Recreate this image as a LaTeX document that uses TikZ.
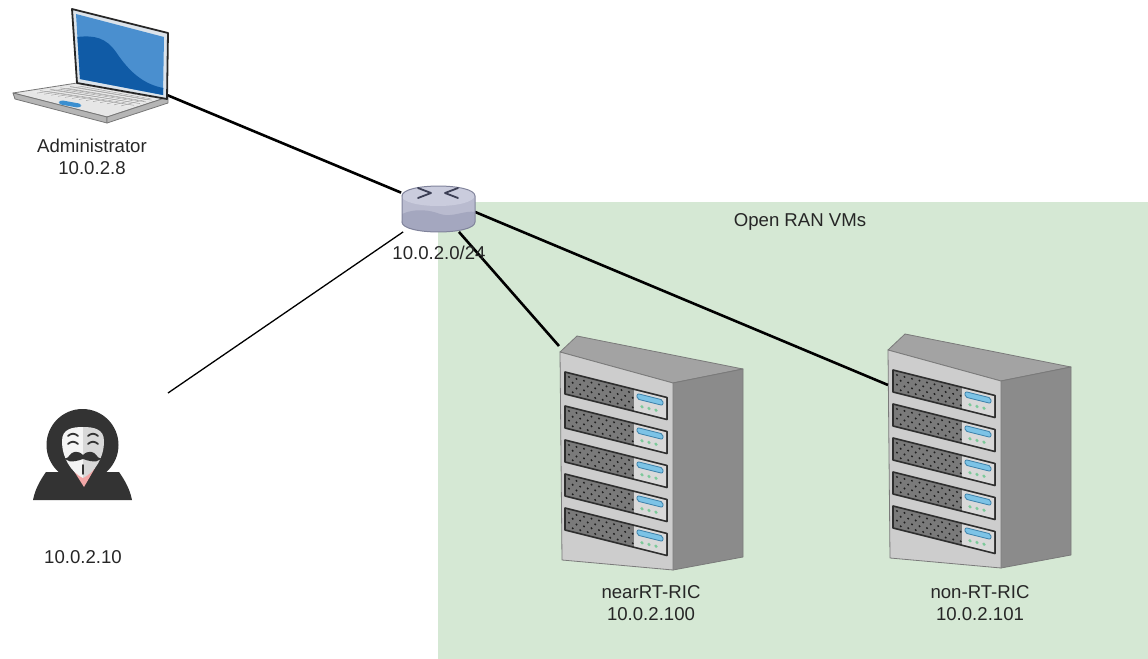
\documentclass[tikz,border=0pt]{standalone}
\usepackage{fontspec}
\setmainfont{Liberation Sans}
\usetikzlibrary{calc}

\definecolor{vmgreen}{HTML}{D5E8D4}
\definecolor{hood}{HTML}{333333}
\definecolor{maskwhite}{HTML}{F4F4F4}
\definecolor{maskshade}{HTML}{D8D8D8}
\definecolor{blush}{HTML}{F2A7A7}
\definecolor{rtop}{HTML}{CACCDD}
\definecolor{rbody}{HTML}{B9BBCF}
\definecolor{rbottom}{HTML}{A4A7BF}
\definecolor{rline}{HTML}{80839B}
\definecolor{rmark}{HTML}{3C3F55}
\definecolor{lapbase}{HTML}{E6E6E6}
\definecolor{lapedge}{HTML}{B5B5B5}
\definecolor{lapline}{HTML}{777777}
\definecolor{keygrid}{HTML}{A9A9A9}
\definecolor{bezel}{HTML}{DCE3EA}
\definecolor{scrlight}{HTML}{4A8FCF}
\definecolor{scrdark}{HTML}{105BA6}
\definecolor{touchpad}{HTML}{3B8FD0}
\definecolor{racktop}{HTML}{A3A3A3}
\definecolor{rackside}{HTML}{8B8B8B}
\definecolor{rackfront}{HTML}{CDCDCD}
\definecolor{rackline}{HTML}{7A7A7A}
\definecolor{meshgrey}{HTML}{7A7A7A}
\definecolor{meshdot}{HTML}{1E1E1E}
\definecolor{bayline}{HTML}{2E2E2E}
\definecolor{panelgrey}{HTML}{D9D9D9}
\definecolor{lcdblue}{HTML}{7CC3E6}
\definecolor{lcdedge}{HTML}{3B7FA8}
\definecolor{ledgreen}{HTML}{7CC99A}

\tikzset{
  link/.style={line width=1.3pt},
  thinlink/.style={line width=0.65pt},
  lbl/.style={inner sep=0pt, align=center, text=black!85, font=\fontsize{9.3}{11}\selectfont},
  drivebay/.pic={
    \begin{scope}[yslant=-0.25]
      \filldraw[fill=meshgrey, draw=bayline, line width=0.8pt] (0,0) rectangle (102,22);
      \fill[panelgrey] (69,1) rectangle (101,21);
      \filldraw[fill=lcdblue, draw=lcdedge, line width=0.4pt, rounded corners=1pt] (72,3.5) rectangle (98,9);
      \foreach \d in {77,84,91} \fill[ledgreen] (\d,15.5) circle (1.8);
      \foreach \i in {0,...,8} \foreach \j in {0,...,3}
        \fill[meshdot] ({4+7.5*\i+3.7*mod(\j,2)},{4+4.8*\j}) circle (1.1);
    \end{scope}
  },
  rack/.pic={
    \filldraw[fill=racktop, draw=rackline, line width=0.4pt] (0,0) -- (17,-16) -- (183,17) -- (113,31) -- cycle;
    \filldraw[fill=rackside, draw=rackline, line width=0.4pt] (113,31) -- (183,17) -- (183,205) -- (113,218) -- cycle;
    \filldraw[fill=rackfront, draw=rackline, line width=0.4pt] (0,0) -- (113,31) -- (113,218) -- (2,208) -- cycle;
    \foreach \t in {20,54,88,122,156} \pic at (5,\t) {drivebay};
    \coordinate (-top) at (-1,-6);
    \coordinate (-side) at (0,35);
  }
}

\begin{document}
\begin{tikzpicture}[x=0.5pt, y=-0.5pt, line join=round]
  \useasboundingbox (0,0) rectangle (1148,659);
  %
  \fill[vmgreen] (438,202) rectangle (1148,659);
  \node[lbl] (ranlbl) at (800,222) {Open RAN VMs};
  %
  \node[minimum width=36.5pt, minimum height=23.5pt, inner sep=0pt] (router) at (438,208) {};
  \coordinate (admin) at (167,95);
  \coordinate (intruder) at (168,393);
  \pic (near) at (560,352) {rack};
  \pic (nonrt) at (888,350) {rack};
  %
  \path[link] (admin) edge (router);
  \path[link] (router) edge (near-top);
  \path[link] (router.-6) edge (nonrt-side);
  \path[thinlink] (router) edge (intruder);
  %
  % router
  \fill[rbody] (402,196) rectangle (475,222);
  \fill[rbody] (438,222) ellipse [x radius=36.5, y radius=10];
  \fill[rbottom] (402,214) .. controls (415,208) and (430,210) .. (440,214) .. controls (452,218) and (465,210) .. (475,212) -- (475,222) .. controls (475,235.3) and (402,235.3) .. (402,222) -- cycle;
  \fill[rtop] (438,196) ellipse [x radius=36.5, y radius=10];
  \draw[rline, line width=0.5pt] (402,196) -- (402,222) .. controls (402,235.3) and (475,235.3) .. (475,222) -- (475,196) .. controls (475,182.7) and (402,182.7) .. (402,196);
  \draw[rmark, line width=0.9pt, line cap=round] (418,188) -- (431,193) -- (418,198);
  \draw[rmark, line width=0.9pt, line cap=round] (458,188) -- (445,193) -- (458,198);
  \node[lbl] (netlbl) at (439,253) {10.0.2.0/24};
  %
  % laptop
  \filldraw[fill=lapbase, draw=lapline, line width=0.4pt] (13,93) -- (77,83) -- (168,97) -- (107,117) -- cycle;
  \filldraw[fill=lapedge, draw=lapline, line width=0.4pt] (13,93) -- (107,117) -- (107,123) -- (15,99) -- cycle;
  \filldraw[fill=lapedge, draw=lapline, line width=0.4pt] (107,117) -- (168,97) -- (168,103) -- (107,123) -- cycle;
  \coordinate (k1) at (30,92);
  \coordinate (k2) at (80,85);
  \coordinate (k3) at (158,98.5);
  \coordinate (k4) at (128,107);
  \fill[white!92!black] (k1) -- (k2) -- (k3) -- (k4) -- cycle;
  \foreach \t in {0.2,0.4,0.6,0.8}
    \draw[keygrid, line width=0.3pt] ($(k1)!\t!(k2)$) -- ($(k4)!\t!(k3)$);
  \foreach \s in {1,...,13}
    \draw[keygrid, line width=0.3pt] ($(k1)!\s/14!(k4)$) -- ($(k2)!\s/14!(k3)$);
  \fill[touchpad, rounded corners=1.5pt] (60,100) -- (82,104) -- (80,108) -- (58,104) -- cycle;
  \filldraw[fill=bezel, draw=black!85, line width=0.9pt] (72,9) -- (168,33) -- (167,99) -- (77,83) -- cycle;
  \fill[scrlight] (76,14) -- (164,37) -- (163,95) -- (80,79) -- cycle;
  \fill[scrdark] (77.4,37) .. controls (95,35) and (106,38) .. (116,52) .. controls (128,70) and (142,84) .. (163.3,88) -- (163,95) -- (80,79) -- cycle;
  \node[lbl] (adminlbl) at (92,157) {Administrator\\10.0.2.8};
  %
  % hooded figure
  \fill[hood] (46,472) .. controls (39,482) and (35,490) .. (33,500) -- (132,500) .. controls (130,490) and (126,482) .. (119,472) -- cycle;
  \fill[hood] (82.5,445) circle (36);
  \fill[blush] (72,468) -- (95,468) -- (84,487) -- cycle;
  \begin{scope}
    \clip (62,441) .. controls (62,429) and (72,427) .. (83,427) .. controls (94,427) and (104,429) .. (104,441) .. controls (104,458) and (95,472) .. (83,478) .. controls (71,472) and (62,458) .. (62,441) -- cycle;
    \fill[maskwhite] (60,420) rectangle (83,482);
    \fill[maskshade] (83,420) rectangle (106,482);
  \end{scope}
  \draw[hood, line width=0.9pt, line cap=round] (68,436) .. controls (71,433) and (75,433) .. (78,436);
  \draw[hood, line width=0.9pt, line cap=round] (88,436) .. controls (91,433) and (95,433) .. (98,436);
  \draw[hood, line width=0.9pt, line cap=round] (68,444) .. controls (71,441) and (75,441) .. (78,444);
  \draw[hood, line width=0.9pt, line cap=round] (88,444) .. controls (91,441) and (95,441) .. (98,444);
  \fill[hood] (83,455) .. controls (78,450) and (72,451) .. (69,456) .. controls (67,459) and (64,459) .. (64,456) .. controls (65,462) and (72,463) .. (83,459) .. controls (94,463) and (101,462) .. (102,456) .. controls (102,459) and (99,459) .. (97,456) .. controls (94,451) and (88,450) .. (83,455) -- cycle;
  \draw[hood, line width=0.9pt, line cap=round] (83,465) -- (83,474);
  \node[lbl] (atklbl) at (83,557) {10.0.2.10};
  %
  \node[lbl] (nearlbl) at (651,603) {nearRT-RIC\\10.0.2.100};
  \node[lbl] (nonrtlbl) at (980,603) {non-RT-RIC\\10.0.2.101};
\end{tikzpicture}
\end{document}
